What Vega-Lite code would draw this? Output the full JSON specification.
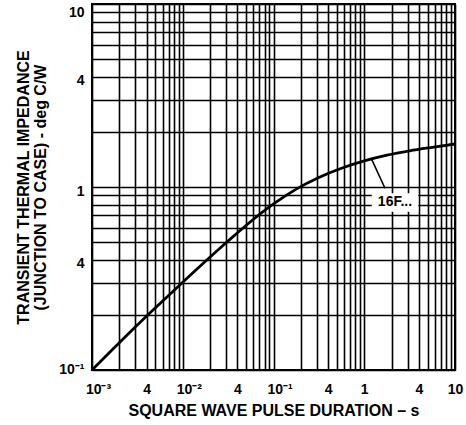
{
  "$schema": "https://vega.github.io/schema/vega-lite/v6.json",
  "autosize": "none",
  "width": 363,
  "height": 366,
  "padding": {"left": 92, "top": 4, "right": 11, "bottom": 55},
  "background": "white",
  "config": {
    "view": {"stroke": "black", "strokeWidth": 2},
    "axis": {
      "domain": false,
      "ticks": false,
      "grid": true,
      "gridColor": "black",
      "gridOpacity": 1,
      "gridWidth": 1.6,
      "labelFont": "Liberation Sans",
      "labelFontWeight": "bold",
      "labelFontSize": 14,
      "labelColor": "black",
      "labelOverlap": false,
      "labelFlush": false,
      "labelBound": false,
      "titleFont": "Liberation Sans",
      "titleFontWeight": "bold",
      "titleFontSize": 16,
      "titleColor": "black"
    }
  },
  "datasets": {
    "curve": [
      {"t": 0.001, "z": 0.1},
      {"t": 0.00178, "z": 0.133},
      {"t": 0.00316, "z": 0.176},
      {"t": 0.00562, "z": 0.231},
      {"t": 0.01, "z": 0.302},
      {"t": 0.0178, "z": 0.393},
      {"t": 0.0316, "z": 0.507},
      {"t": 0.0562, "z": 0.648},
      {"t": 0.1, "z": 0.808},
      {"t": 0.178, "z": 0.974},
      {"t": 0.316, "z": 1.128},
      {"t": 0.562, "z": 1.266},
      {"t": 1, "z": 1.388},
      {"t": 1.78, "z": 1.492},
      {"t": 3.16, "z": 1.576},
      {"t": 5.62, "z": 1.648},
      {"t": 10, "z": 1.718}
    ],
    "label": [
      {"x1": 1.21, "x2": 3.94, "y1": 0.733, "y2": 0.924, "lx": 1.208, "ly": 1.417, "lx2": 1.693, "ly2": 0.984, "tx": 2.18, "ty": 0.828, "text": "16F..."}
    ]
  },
  "layer": [
    {
      "data": {"name": "label"},
      "mark": {"type": "rect", "fill": "white", "stroke": null},
      "encoding": {
        "x": {
          "field": "x1", "type": "quantitative",
          "scale": {"type": "log", "domain": [0.001, 10], "nice": false},
          "axis": {
            "title": "SQUARE WAVE PULSE DURATION – s",
            "titlePadding": 6,
            "labelPadding": 12,
            "values": [0.001, 0.002, 0.003, 0.004, 0.005, 0.006, 0.007, 0.008, 0.009, 0.01, 0.02, 0.03, 0.04, 0.05, 0.06, 0.07, 0.08, 0.09, 0.1, 0.2, 0.3, 0.4, 0.5, 0.6, 0.7, 0.8, 0.9, 1, 2, 3, 4, 5, 6, 7, 8, 9, 10],
            "labelExpr": "datum.value == 0.001 ? '10⁻³' : datum.value == 0.01 ? '10⁻²' : datum.value == 0.1 ? '10⁻¹' : datum.value == 1 ? '1' : datum.value == 10 ? '10' : (datum.value == 0.004 || datum.value == 0.04 || datum.value == 0.4 || datum.value == 4) ? '4' : ''",
            "labelOffset": {"condition": {"test": "datum.value == 0.001 || datum.value == 0.01 || datum.value == 0.1", "value": 6}, "value": 0}
          }
        },
        "x2": {"field": "x2"},
        "y": {
          "field": "y1", "type": "quantitative",
          "scale": {"type": "log", "domain": [0.1, 10], "nice": false},
          "axis": {
            "title": ["TRANSIENT THERMAL IMPEDANCE", "(JUNCTION TO CASE) - deg C/W"],
            "titlePadding": 10,
            "titleLineHeight": 17,
            "labelPadding": 8,
            "values": [0.1, 0.2, 0.3, 0.4, 0.5, 0.6, 0.7, 0.8, 0.9, 1, 2, 3, 4, 5, 6, 7, 8, 9, 10],
            "labelExpr": "datum.value == 0.1 ? '10⁻¹' : datum.value == 1 ? '1' : datum.value == 10 ? '10' : (datum.value == 0.4 || datum.value == 4) ? '4' : ''",
            "labelOffset": {"condition": [{"test": "datum.value == 10", "value": 8}, {"test": "datum.value == 0.1", "value": -1}], "value": 4}
          }
        },
        "y2": {"field": "y2"}
      }
    },
    {
      "data": {"name": "curve"},
      "mark": {"type": "line", "color": "black", "strokeWidth": 2.8, "interpolate": "monotone"},
      "encoding": {
        "x": {"field": "t", "type": "quantitative"},
        "y": {"field": "z", "type": "quantitative"}
      }
    },
    {
      "data": {"name": "label"},
      "mark": {"type": "rule", "color": "black", "strokeWidth": 1.6},
      "encoding": {
        "x": {"field": "lx", "type": "quantitative"},
        "y": {"field": "ly", "type": "quantitative"},
        "x2": {"field": "lx2"},
        "y2": {"field": "ly2"}
      }
    },
    {
      "data": {"name": "label"},
      "mark": {"type": "text", "font": "Liberation Sans", "fontWeight": "bold", "fontSize": 14, "color": "black", "align": "center", "baseline": "middle"},
      "encoding": {
        "x": {"field": "tx", "type": "quantitative"},
        "y": {"field": "ty", "type": "quantitative"},
        "text": {"field": "text"}
      }
    }
  ]
}
